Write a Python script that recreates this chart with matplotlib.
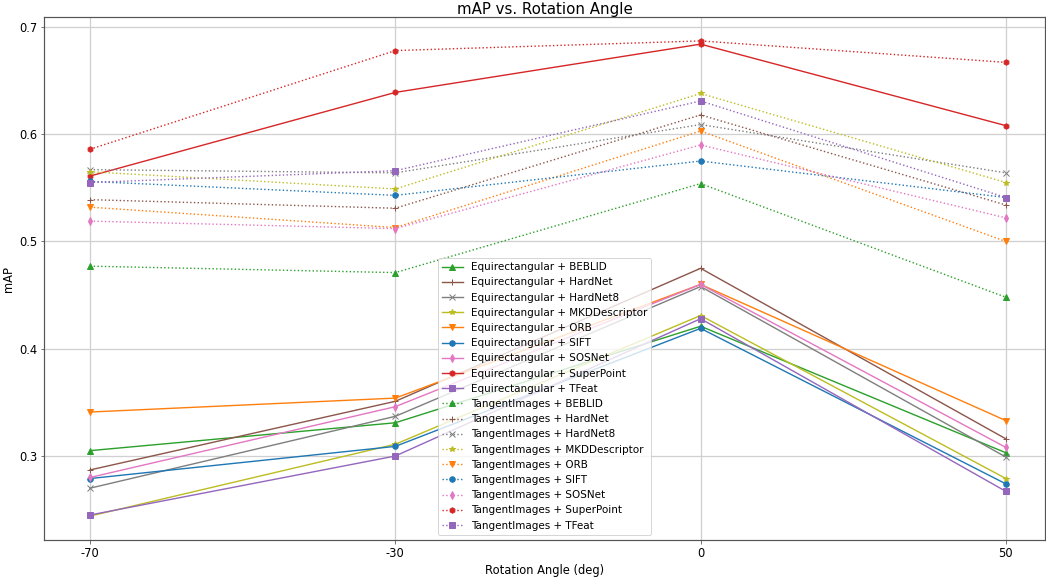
import matplotlib
matplotlib.use("Agg")
import matplotlib.pyplot as plt

angles = [-70, -30, 0, 50]
methods = ["BEBLID", "HardNet", "HardNet8", "MKDDescriptor", "ORB", "SIFT", "SOSNet", "SuperPoint", "TFeat"]

equi_BEBLID = [0.305, 0.331, 0.421, 0.303]
equi_HardNet = [0.287, 0.351, 0.475, 0.316]
equi_HardNet8 = [0.270, 0.337, 0.458, 0.299]
equi_MKD = [0.244, 0.311, 0.431, 0.279]
equi_ORB = [0.341, 0.354, 0.460, 0.333]
equi_SIFT = [0.279, 0.309, 0.419, 0.274]
equi_SOSNet = [0.280, 0.346, 0.460, 0.308]
equi_SuperPoint = [0.561, 0.639, 0.684, 0.608]
equi_TFeat = [0.245, 0.300, 0.428, 0.267]

tan_BEBLID = [0.477, 0.471, 0.554, 0.448]
tan_HardNet = [0.539, 0.531, 0.618, 0.534]
tan_HardNet8 = [0.567, 0.564, 0.609, 0.564]
tan_MKD = [0.565, 0.549, 0.638, 0.555]
tan_ORB = [0.532, 0.513, 0.603, 0.500]
tan_SIFT = [0.556, 0.543, 0.575, 0.541]
tan_SOSNet = [0.519, 0.512, 0.590, 0.522]
tan_SuperPoint = [0.586, 0.678, 0.687, 0.667]
tan_TFeat = [0.555, 0.566, 0.631, 0.541]

equi = [equi_BEBLID, equi_HardNet, equi_HardNet8, equi_MKD, equi_ORB, equi_SIFT, equi_SOSNet, equi_SuperPoint, equi_TFeat]
tang = [tan_BEBLID, tan_HardNet, tan_HardNet8, tan_MKD, tan_ORB, tan_SIFT, tan_SOSNet, tan_SuperPoint, tan_TFeat]

colors = ["tab:green", "tab:brown", "tab:gray", "tab:olive", "tab:orange", "tab:blue", "tab:pink", "tab:red", "tab:purple"]
markers = ["^", "+", "x", "*", "v", "o", "d", "h", "s"]

DPI = 72
fig = plt.figure(figsize=(1046 / DPI, 579 / DPI), dpi=DPI)
W, H = 1046, 579
ax = fig.add_axes([44 / W, 1 - 540 / H, (1045 - 44) / W, (540 - 17) / H])

xpos = list(range(len(angles)))
for m, vals, c, mk in zip(methods, equi, colors, markers):
    ax.plot(xpos, vals, linestyle='-', marker=mk, color=c, markersize=5.5, linewidth=1.4,
            label=f"Equirectangular + {m}")
for m, vals, c, mk in zip(methods, tang, colors, markers):
    ax.plot(xpos, vals, linestyle=':', marker=mk, color=c, markersize=5.5, linewidth=1.4,
            label=f"TangentImages + {m}")

ax.set_xticks(xpos)
ax.set_xticklabels([str(a) for a in angles])
ax.set_xlim(-0.1507, 3.128)
ax.set_ylim(0.2217, 0.7093)
ax.tick_params(labelsize=11.5, color='#555555')
ax.set_xlabel("Rotation Angle (deg)", fontsize=11.5)
ax.set_ylabel("mAP", fontsize=11.5)
ax.set_title("mAP vs. Rotation Angle", fontsize=15, pad=3)
ax.grid(True, color='#d0d0d0', linewidth=1.3)
for s in ax.spines.values():
    s.set_color('#555555')
    s.set_linewidth(1.2)
ax.legend(loc='lower center', fontsize=10.4, labelspacing=0.5)

fig.savefig("out.png", dpi=DPI)
